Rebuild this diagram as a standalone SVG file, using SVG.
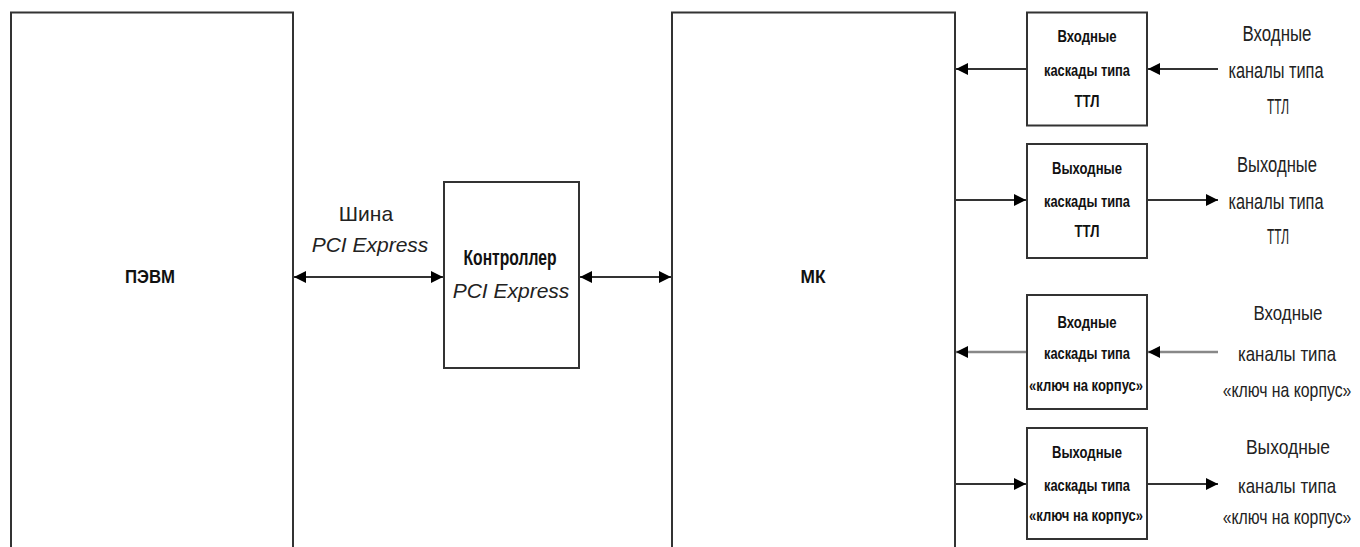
<svg xmlns="http://www.w3.org/2000/svg" width="1360" height="547" viewBox="0 0 1360 547">
<defs>
<marker id="ah" viewBox="0 0 10 10" refX="10" refY="5" markerWidth="12" markerHeight="13" markerUnits="userSpaceOnUse" orient="auto-start-reverse">
<path d="M0,0 L10,5 L0,10 Z" fill="#000"/>
</marker>
<style>
.box{fill:#fff;stroke:#333;stroke-width:2}
.ln{stroke:#333;stroke-width:2;fill:none}
.lg{stroke:#888;stroke-width:2.5;fill:none}
.b{font-family:"Liberation Sans",Arial,sans-serif;font-weight:bold;fill:#111;text-anchor:middle}
.r{font-family:"Liberation Sans",Arial,sans-serif;fill:#222;text-anchor:middle}
.i{font-family:"Liberation Sans",Arial,sans-serif;font-style:italic;fill:#222;text-anchor:middle}
</style>
</defs>
<rect width="1360" height="547" fill="#fff"/>
<g id="connectors">
<line class="ln" x1="294" y1="277" x2="443" y2="277" marker-start="url(#ah)" marker-end="url(#ah)"/>
<line class="ln" x1="580" y1="277" x2="671" y2="277" marker-start="url(#ah)" marker-end="url(#ah)"/>
<line class="ln" x1="1218" y1="69" x2="1148" y2="69" marker-end="url(#ah)"/>
<line class="ln" x1="1027" y1="69" x2="956" y2="69" marker-end="url(#ah)"/>
<line class="ln" x1="955" y1="200" x2="1026" y2="200" marker-end="url(#ah)"/>
<line class="ln" x1="1147" y1="200" x2="1218" y2="200" marker-end="url(#ah)"/>
<line class="lg" x1="1218" y1="352" x2="1148" y2="352" marker-end="url(#ah)"/>
<line class="lg" x1="1027" y1="352" x2="956" y2="352" marker-end="url(#ah)"/>
<line class="ln" x1="955" y1="484" x2="1026" y2="484" marker-end="url(#ah)"/>
<line class="ln" x1="1147" y1="484" x2="1218" y2="484" marker-end="url(#ah)"/>
</g>
<g id="pevm">
<rect class="box" x="11" y="12.5" width="282" height="560"/>
<text class="b" x="150" y="283" font-size="19" textLength="50" lengthAdjust="spacingAndGlyphs">ПЭВМ</text>
</g>
<g id="bus-label">
<text class="r" x="366" y="221" font-size="21">Шина</text>
<text class="i" x="370" y="252" font-size="21">PCI Express</text>
</g>
<g id="controller">
<rect class="box" x="444" y="182" width="135" height="186"/>
<text class="b" x="510" y="265" font-size="22" textLength="93" lengthAdjust="spacingAndGlyphs">Контроллер</text>
<text class="i" x="511" y="298" font-size="21">PCI Express</text>
</g>
<g id="mk">
<rect class="box" x="672" y="12.5" width="283" height="560"/>
<text class="b" x="813" y="283" font-size="19" textLength="25" lengthAdjust="spacingAndGlyphs">МК</text>
</g>
<g id="in-ttl">
<rect class="box" x="1027" y="12.5" width="120" height="113"/>
<text class="b" x="1087" y="42" font-size="17" textLength="59" lengthAdjust="spacingAndGlyphs">Входные</text>
<text class="b" x="1087" y="76" font-size="17" textLength="86" lengthAdjust="spacingAndGlyphs">каскады типа</text>
<text class="b" x="1087" y="107" font-size="17" textLength="25" lengthAdjust="spacingAndGlyphs">ТТЛ</text>
</g>
<g id="out-ttl">
<rect class="box" x="1027" y="144" width="120" height="114"/>
<text class="b" x="1087" y="174" font-size="17" textLength="70" lengthAdjust="spacingAndGlyphs">Выходные</text>
<text class="b" x="1087" y="207" font-size="17" textLength="86" lengthAdjust="spacingAndGlyphs">каскады типа</text>
<text class="b" x="1087" y="237" font-size="17" textLength="25" lengthAdjust="spacingAndGlyphs">ТТЛ</text>
</g>
<g id="in-key">
<rect class="box" x="1027" y="295" width="120" height="114"/>
<text class="b" x="1087" y="328" font-size="17" textLength="59" lengthAdjust="spacingAndGlyphs">Входные</text>
<text class="b" x="1087" y="359" font-size="17" textLength="86" lengthAdjust="spacingAndGlyphs">каскады типа</text>
<text class="b" x="1086" y="391" font-size="16" textLength="114" lengthAdjust="spacingAndGlyphs">«ключ на корпус»</text>
</g>
<g id="out-key">
<rect class="box" x="1027" y="428" width="120" height="111"/>
<text class="b" x="1087" y="458" font-size="17" textLength="70" lengthAdjust="spacingAndGlyphs">Выходные</text>
<text class="b" x="1087" y="491" font-size="17" textLength="86" lengthAdjust="spacingAndGlyphs">каскады типа</text>
<text class="b" x="1086" y="521" font-size="16" textLength="114" lengthAdjust="spacingAndGlyphs">«ключ на корпус»</text>
</g>
<g id="ch-in-ttl">
<text class="r" x="1277" y="41" font-size="22" textLength="69" lengthAdjust="spacingAndGlyphs">Входные</text>
<text class="r" x="1276" y="78" font-size="22" textLength="95" lengthAdjust="spacingAndGlyphs">каналы типа</text>
<text class="r" x="1278" y="114" font-size="22" textLength="22" lengthAdjust="spacingAndGlyphs">ТТЛ</text>
</g>
<g id="ch-out-ttl">
<text class="r" x="1277" y="172" font-size="22" textLength="80" lengthAdjust="spacingAndGlyphs">Выходные</text>
<text class="r" x="1276" y="209" font-size="22" textLength="95" lengthAdjust="spacingAndGlyphs">каналы типа</text>
<text class="r" x="1278" y="244" font-size="22" textLength="22" lengthAdjust="spacingAndGlyphs">ТТЛ</text>
</g>
<g id="ch-in-key">
<text class="r" x="1288" y="320" font-size="21" textLength="69" lengthAdjust="spacingAndGlyphs">Входные</text>
<text class="r" x="1287" y="361" font-size="21" textLength="98" lengthAdjust="spacingAndGlyphs">каналы типа</text>
<text class="r" transform="translate(1287,397) scale(0.79,1)" x="0" y="0" font-size="20">«ключ на корпус»</text>
</g>
<g id="ch-out-key">
<text class="r" x="1288" y="454" font-size="21" textLength="84" lengthAdjust="spacingAndGlyphs">Выходные</text>
<text class="r" x="1287" y="493" font-size="21" textLength="98" lengthAdjust="spacingAndGlyphs">каналы типа</text>
<text class="r" transform="translate(1287,524) scale(0.79,1)" x="0" y="0" font-size="20">«ключ на корпус»</text>
</g>
</svg>
